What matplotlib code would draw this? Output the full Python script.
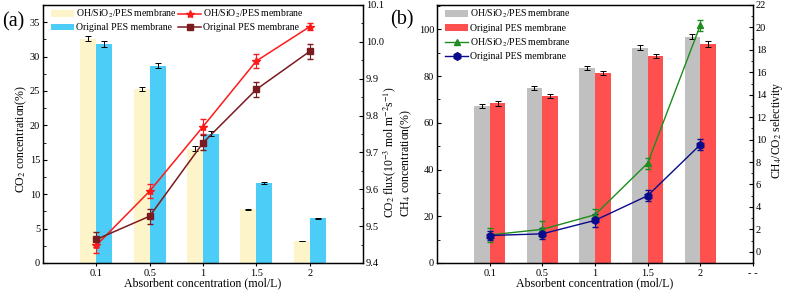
import matplotlib
matplotlib.use("Agg")
import matplotlib.pyplot as plt
from matplotlib.ticker import MultipleLocator
from matplotlib.container import ErrorbarContainer

plt.rcParams['font.family'] = ['Liberation Serif', 'DejaVu Serif']
plt.rcParams['mathtext.fontset'] = 'stix'

categories = ['0.1', '0.5', '1', '1.5', '2']

# Panel (a)
a_bar_mod = [32.6, 25.3, 16.6, 7.8, 3.2]
a_bar_mod_err = [0.4, 0.35, 0.35, 0.1, 0.05]
a_bar_org = [31.8, 28.7, 18.8, 11.6, 6.5]
a_bar_org_err = [0.45, 0.35, 0.4, 0.15, 0.05]
a_line_mod = [9.448, 9.595, 9.770, 9.948, 10.041]
a_line_mod_err = [0.02, 0.02, 0.02, 0.02, 0.01]
a_line_org = [9.464, 9.527, 9.726, 9.871, 9.974]
a_line_org_err = [0.02, 0.02, 0.02, 0.02, 0.02]

# Panel (b)
b_bar_mod = [67.3, 75.0, 83.4, 92.1, 96.8]
b_bar_mod_err = [0.8, 0.8, 1.0, 1.0, 1.0]
b_bar_org = [68.3, 71.4, 81.3, 88.5, 93.7]
b_bar_org_err = [1.0, 0.8, 0.8, 0.8, 1.2]
b_line_mod = [1.5, 2.0, 3.3, 7.9, 20.2]
b_line_mod_err = [0.6, 0.7, 0.5, 0.5, 0.5]
b_line_org = [1.45, 1.6, 2.8, 5.0, 9.55]
b_line_org_err = [0.4, 0.5, 0.6, 0.5, 0.5]

fig = plt.figure(figsize=(7.89, 2.94), dpi=100)
W, H = 789, 294

def add_ax(x0, y0, x1, y1):
    return fig.add_axes([x0 / W, 1 - y1 / H, (x1 - x0) / W, (y1 - y0) / H])

pos = list(range(1, len(categories) + 1))
bw = 0.3
tfs = 7.5
lfs = 8.6
legfs = 7.0

def style(ax):
    ax.tick_params(direction='in', labelsize=tfs, length=3, width=0.8, pad=2)
    ax.tick_params(which='minor', direction='in', length=1.8)
    for s in ax.spines.values():
        s.set_linewidth(0.9)

def place_ylabel(a, px, py, x0, x1, y0=5, y1=263):
    a.yaxis.set_label_coords((px - x0) / (x1 - x0), 1 - (py - y0) / (y1 - y0))
    a.yaxis.label.set_verticalalignment('center')

def clean(handles):
    return [h[0] if isinstance(h, ErrorbarContainer) else h for h in handles]

# ---------- Panel (a)
ax = add_ax(43, 5, 363, 263)
ekw = dict(ecolor='black', elinewidth=0.7, capsize=2, capthick=0.7)
ax.bar([p - bw / 2 for p in pos], a_bar_mod, bw, yerr=a_bar_mod_err,
       color='#fdf5c9', label='OH/SiO$_2$/PES membrane', error_kw=ekw)
ax.bar([p + bw / 2 for p in pos], a_bar_org, bw, yerr=a_bar_org_err,
       color='#4ccdf8', label='Original PES membrane', error_kw=ekw)
ax.set_xlim(0, 6)
ax.set_ylim(0, 37.5)
ax.set_xticks(pos)
ax.set_xticklabels(categories)
ax.yaxis.set_major_locator(MultipleLocator(5))
ax.yaxis.set_minor_locator(MultipleLocator(2.5))
ax.set_ylabel('CO$_2$ concentration(%)', fontsize=lfs)
ax.set_xlabel('Absorbent concentration (mol/L)', fontsize=lfs, labelpad=0)
style(ax)
ax.tick_params(axis='x', direction='out', length=2, pad=2)
place_ylabel(ax, 21, 139, 43, 363)
ax2 = ax.twinx()
ax2.errorbar(pos, a_line_mod, yerr=a_line_mod_err, color='#ff1a1a', marker='*',
             markersize=6, lw=1.1, capsize=2, elinewidth=0.8,
             label='OH/SiO$_2$/PES membrane')
ax2.errorbar(pos, a_line_org, yerr=a_line_org_err, color='#7b1a1f', marker='s',
             markersize=4.5, lw=1.1, capsize=2, elinewidth=0.8,
             label='Original PES membrane')
ax2.set_ylim(9.4, 10.1)
ax2.yaxis.set_major_locator(MultipleLocator(0.1))
ax2.yaxis.set_minor_locator(MultipleLocator(0.05))
ax2.set_ylabel('CO$_2$ flux(10$^{-3}$ mol m$^{-2}$s$^{-1}$)', fontsize=lfs - 0.2)
style(ax2)
place_ylabel(ax2, 390, 152, 43, 363)
h1, l1 = ax.get_legend_handles_labels()
h2, l2 = ax2.get_legend_handles_labels()
ax2.legend(h1 + clean(h2), l1 + l2, ncol=2, loc='upper left', bbox_to_anchor=(0.005, 1.015),
           frameon=False, fontsize=legfs, handlelength=2.3, handletextpad=0.2,
           columnspacing=0.2, labelspacing=0.3, borderaxespad=0.3)
fig.text(2 / W, 1 - 22 / H, '(a)', fontsize=14.5, va='center', ha='left')

# ---------- Panel (b)
bx = add_ax(437, 5, 753, 263)
bx.bar([p - bw / 2 for p in pos], b_bar_mod, bw, yerr=b_bar_mod_err,
       color='#c0c0c0', label='OH/SiO$_2$/PES membrane', error_kw=ekw)
bx.bar([p + bw / 2 for p in pos], b_bar_org, bw, yerr=b_bar_org_err,
       color='#ff5050', label='Original PES membrane', error_kw=ekw)
bx.set_xlim(0, 6)
bx.set_ylim(0, 110.4)
bx.set_xticks(pos + [6])
bx.set_xticklabels(categories + ['- -'])
bx.yaxis.set_major_locator(MultipleLocator(20))
bx.yaxis.set_minor_locator(MultipleLocator(10))
bx.set_ylabel('CH$_4$ concentration(%)', fontsize=lfs)
bx.set_xlabel('Absorbent concentration (mol/L)', fontsize=lfs, labelpad=0)
style(bx)
bx.tick_params(axis='x', direction='out', length=2, pad=2)
place_ylabel(bx, 406, 163, 437, 753)
bx2 = bx.twinx()
bx2.errorbar(pos, b_line_mod, yerr=b_line_mod_err, color='#1e8c1e', marker='^',
             markersize=5, lw=1.0, capsize=2, elinewidth=0.8,
             label='OH/SiO$_2$/PES membrane')
bx2.errorbar(pos, b_line_org, yerr=b_line_org_err, color='#0a0a8c', marker='h',
             markersize=5.5, lw=1.0, capsize=2, elinewidth=0.8,
             label='Original PES membrane')
bx2.set_ylim(-1, 22)
bx2.yaxis.set_major_locator(MultipleLocator(2))
bx2.yaxis.set_minor_locator(MultipleLocator(1))
bx2.set_ylabel('CH$_4$/CO$_2$ selectivity', fontsize=lfs - 0.2)
style(bx2)
place_ylabel(bx2, 777, 130, 437, 753)
h1, l1 = bx.get_legend_handles_labels()
h2, l2 = bx2.get_legend_handles_labels()
bx2.legend(h1 + clean(h2), l1 + l2, ncol=1, loc='upper left', bbox_to_anchor=(0.005, 1.015),
           frameon=False, fontsize=legfs, handlelength=2.3, handletextpad=0.2,
           labelspacing=0.35, borderaxespad=0.3)
fig.text(390 / W, 1 - 20 / H, '(b)', fontsize=14.5, va='center', ha='left')

fig.savefig('out.png', dpi=100)
